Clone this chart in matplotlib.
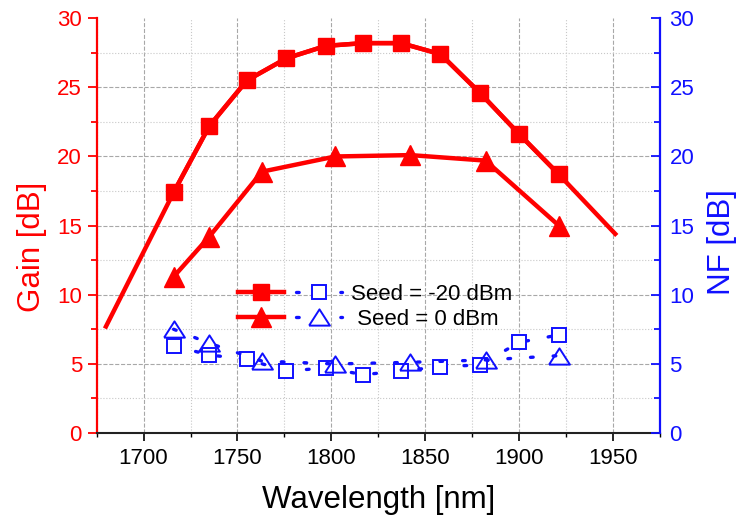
import numpy as np
import matplotlib
matplotlib.use("Agg")
import matplotlib.pyplot as plt
from matplotlib.lines import Line2D
from matplotlib.legend_handler import HandlerTuple
from matplotlib.ticker import MultipleLocator

plt.rcParams['font.family'] = ['Liberation Sans', 'DejaVu Sans']

# gain, seed = -20 dBm (squares) and the trend line that runs past them
wl_sq = [1716, 1735, 1755, 1776, 1797, 1817, 1837, 1858, 1879, 1900, 1921]
gain_sq = [17.4, 22.2, 25.5, 27.1, 28.0, 28.2, 28.2, 27.4, 24.6, 21.6, 18.7]
wl_sq_line = [1680] + wl_sq + [1951]
gain_sq_line = [7.7] + gain_sq + [14.4]

# gain, seed = 0 dBm (triangles)
wl_tri = [1716, 1735, 1763, 1802, 1842, 1882, 1921]
gain_tri = [11.3, 14.2, 18.9, 20.0, 20.1, 19.7, 15.0]

# noise figure
nf_sq = [6.3, 5.64, 5.33, 4.48, 4.7, 4.22, 4.48, 4.79, 4.92, 6.56, 7.09]
nf_tri = [7.5, 6.49, 5.2, 4.99, 5.11, 5.28, 5.59]

red = '#ff0000'
blue = '#1010ff'
wide_tri = [(-1, -0.78), (1, -0.78), (0, 0.78), (-1, -0.78)]

fig = plt.figure(figsize=(7.37, 5.21), dpi=100)
ax = fig.add_axes([0.131, 0.169, 0.765, 0.796])
ax2 = ax.twinx()

ax.plot(wl_sq_line, gain_sq_line, color=red, lw=3.2, zorder=3)
l1, = ax.plot(wl_sq, gain_sq, color=red, lw=3.2, marker='s', ms=11, zorder=4)
l2, = ax.plot(wl_tri, gain_tri, color=red, lw=3.2, marker='^', ms=14, zorder=4)

dots = (0, (0.8, 6))
ax2.plot(wl_sq, nf_sq, color=blue, lw=2.4, ls=dots, dash_capstyle='round',
         marker='s', ms=10.3, mfc='white', mec=blue, mew=1.4)
ax2.plot(wl_tri, nf_tri, color=blue, lw=2.4, ls=dots, dash_capstyle='round',
         marker=wide_tri, ms=15, mfc='none', mec=blue, mew=1.4)

# legend proxies: dot - marker - dot
leg_dots = (0, (0.8, 12.5))
b1 = Line2D([], [], color=blue, lw=2.4, ls=leg_dots, dash_capstyle='round',
            marker='s', ms=10.3, mfc='white', mec=blue, mew=1.4)
b2 = Line2D([], [], color=blue, lw=2.4, ls=leg_dots, dash_capstyle='round',
            marker=wide_tri, ms=15, mfc='white', mec=blue, mew=1.4)

ax.set_xlim(1675, 1975)
ax.set_ylim(0, 30)
ax2.set_ylim(0, 30)
ax.xaxis.set_major_locator(MultipleLocator(50))
ax.xaxis.set_minor_locator(MultipleLocator(25))
for a in (ax, ax2):
    a.yaxis.set_major_locator(MultipleLocator(5))
    a.yaxis.set_minor_locator(MultipleLocator(2.5))

ax.grid(which='major', ls='--', color='#a8a8a8', lw=0.8)
ax.grid(which='minor', ls=':', color='#c8c8c8', lw=0.8)
ax.set_axisbelow(True)

ax.spines['top'].set_visible(False)
ax2.spines['top'].set_visible(False)
ax.spines['right'].set_visible(False)
ax2.spines['left'].set_visible(False)
ax2.spines['bottom'].set_visible(False)
ax.spines['left'].set_color(red)
ax.spines['left'].set_linewidth(1.6)
ax2.spines['right'].set_color(blue)
ax2.spines['right'].set_linewidth(1.6)
ax.spines['bottom'].set_linewidth(1.5)
ax.spines['bottom'].set_color('#222222')

ax.tick_params(axis='x', which='major', length=6, width=1.2, labelsize=16, pad=5)
ax.tick_params(axis='x', which='minor', length=3, width=1.0)
ax.tick_params(axis='y', which='both', colors=red, labelsize=16, width=1.3, pad=4)
ax.tick_params(axis='y', which='major', length=6.5)
ax.tick_params(axis='y', which='minor', length=4)
ax2.tick_params(axis='y', which='both', direction='in', colors=blue, labelsize=16,
                width=1.3, pad=6.5)
ax2.tick_params(axis='y', which='major', length=6.5)
ax2.tick_params(axis='y', which='minor', length=4)

ax.set_xlabel('Wavelength [nm]', fontsize=22.5, labelpad=11)
ax.set_ylabel('Gain [dB]', fontsize=22.5, color=red)
ax2.set_ylabel('NF [dB]', fontsize=22.5, color=blue)
ax.yaxis.set_label_coords(-0.088, 0.448)
ax2.yaxis.set_label_coords(1.083, 0.46)

leg = ax2.legend([(l1, b1), (l2, b2)], ['Seed = -20 dBm', ' Seed = 0 dBm'],
                 handler_map={tuple: HandlerTuple(ndivide=None, pad=0.5)},
                 handlelength=4.7, frameon=False, fontsize=16,
                 loc='center', bbox_to_anchor=(0.494, 0.304),
                 labelspacing=0.2, handletextpad=0.4)

fig.canvas.draw()
for t in ax.yaxis.get_major_ticks():
    if abs(t.get_loc() - 30) < 1e-6:
        t.gridline.set_visible(False)

fig.savefig('out.png', dpi=100)
